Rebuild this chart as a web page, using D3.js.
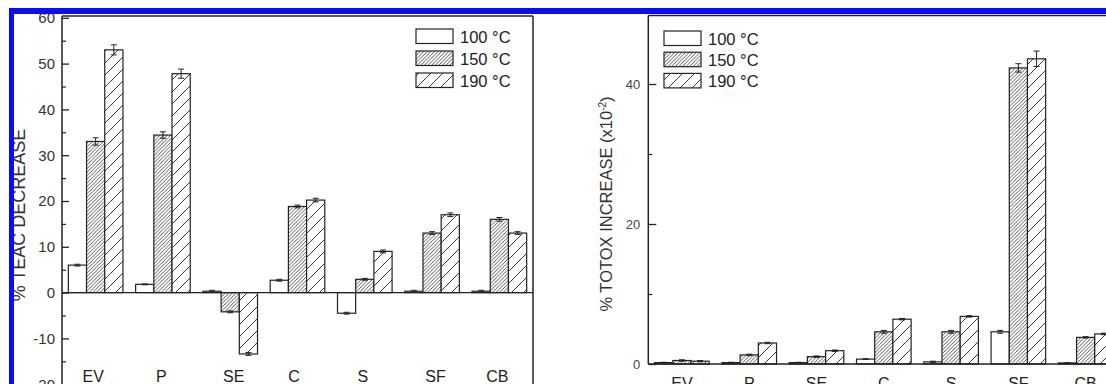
<!DOCTYPE html>
<html><head><meta charset="utf-8">
<script src="https://cdn.jsdelivr.net/npm/d3@7"></script>
<style>body{margin:0;background:#fff}svg{display:block}text{font-family:"Liberation Sans",Arial,sans-serif}</style>
</head><body>
<script>
const categories = ["EV","P","SE","C","S","SF","CB"];
const series = ["100 °C","150 °C","190 °C"];
// Left panel: % TEAC decrease
const teac100 = [6.0, 1.8, 0.3, 2.7, -4.5, 0.3, 0.3];
const teac150 = [33.0, 34.4, -4.2, 18.8, 2.9, 13.0, 16.0];
const teac190 = [53.0, 47.8, -13.4, 20.2, 9.0, 17.0, 13.0];
const teacErr100 = [0.2, 0.1, 0.2, 0.2, 0.2, 0.2, 0.2];
const teacErr150 = [0.8, 0.7, 0.2, 0.3, 0.2, 0.3, 0.4];
const teacErr190 = [1.1, 1.0, 0.3, 0.4, 0.3, 0.4, 0.3];
const teacTicks = [-20,-10,0,10,20,30,40,50,60];
const teacMinor = [-15,-5,5,15,25,35,45,55];
// Right panel: % TOTOX increase (x10^-2)
const totox100 = [0.2, 0.2, 0.2, 0.7, 0.3, 4.6, 0.15];
const totox150 = [0.5, 1.3, 1.05, 4.6, 4.6, 42.3, 3.8];
const totox190 = [0.4, 3.0, 1.9, 6.4, 6.8, 43.6, 4.3];
const totoxErr100 = [0.05, 0.05, 0.05, 0.05, 0.1, 0.2, 0.05];
const totoxErr150 = [0.1, 0.1, 0.1, 0.2, 0.2, 0.6, 0.1];
const totoxErr190 = [0.1, 0.1, 0.1, 0.1, 0.1, 1.1, 0.1];
const totoxTicks = [0, 20, 40];
const totoxMinor = [10, 30];

const W = 1106, H = 384;
const ink = "#222";
const svg = d3.select("body").append("svg").attr("width", W).attr("height", H);
svg.append("rect").attr("width", W).attr("height", H).attr("fill", "#fff");

const defs = svg.append("defs");
function hatch(id, w, sw) {
  const p = defs.append("pattern").attr("id", id).attr("patternUnits", "userSpaceOnUse")
    .attr("width", w).attr("height", w);
  p.append("rect").attr("width", w).attr("height", w).attr("fill", "#fff");
  p.append("path").attr("d", `M0,${w} L${w},0 M-2,2 L2,-2 M${w-2},${w+2} L${w+2},${w-2}`)
    .attr("stroke", ink).attr("stroke-width", sw);
}
hatch("h150", 3.6, 0.75);
hatch("h190", 12, 0.9);
const fills = ["#fff", "url(#h150)", "url(#h190)"];
const fmt = d => String(d);

function panel(o) {
  const g = svg.append("g");
  const x = d3.scaleBand().domain(categories).range(o.xr);
  const inner = d3.scaleBand().domain(series).range([0, 54.6]);
  const off = (x.bandwidth() - 54.6) / 2;
  const y = d3.scaleLinear().domain(o.yd).range(o.yr);

  categories.forEach((c, i) => {
    series.forEach((s, j) => {
      const v = o.vals[j][i], e = o.errs[j][i];
      const bx = x(c) + off + inner(s);
      g.append("rect").attr("x", bx).attr("y", y(Math.max(v, 0)))
        .attr("width", inner.bandwidth()).attr("height", Math.max(Math.abs(y(v) - y(0)), 0.8))
        .attr("fill", fills[j]).attr("stroke", ink).attr("stroke-width", 1.2);
      const cx = bx + inner.bandwidth() / 2;
      g.append("path").attr("d",
        `M${cx},${y(v - e)}V${y(v + e)}M${cx - 3},${y(v + e)}H${cx + 3}M${cx - 3},${y(v - e)}H${cx + 3}`)
        .attr("stroke", ink).attr("stroke-width", 1).attr("fill", "none");
    });
  });

  g.append("line").attr("x1", o.xr[0]).attr("x2", Math.min(o.xr[1], W)).attr("y1", y(0)).attr("y2", y(0))
    .attr("stroke", ink).attr("stroke-width", 1.4);
  g.append("line").attr("x1", o.xr[0]).attr("x2", Math.min(o.xr[1], W)).attr("y1", o.top).attr("y2", o.top)
    .attr("stroke", ink).attr("stroke-width", 1.5);
  if (o.xr[1] < W) {
    g.append("line").attr("x1", o.xr[1]).attr("x2", o.xr[1]).attr("y1", o.top).attr("y2", H)
      .attr("stroke", ink).attr("stroke-width", 1.5);
  }

  const ax = g.append("g").attr("transform", `translate(${o.xr[0]},0)`)
    .call(d3.axisLeft(y).tickValues(o.ticks).tickSize(-o.tick).tickPadding(o.pad).tickFormat(fmt));
  ax.select(".domain").remove();
  ax.selectAll(".tick line").attr("stroke", ink).attr("stroke-width", 1.3);
  ax.selectAll(".tick text").attr("font-size", o.tfs).attr("fill", o.tcol)
    .attr("font-family", '"Liberation Sans",Arial,sans-serif');
  const mx = g.append("g").attr("transform", `translate(${o.xr[0]},0)`)
    .call(d3.axisLeft(y).tickValues(o.minor).tickSize(-4).tickFormat(""));
  mx.select(".domain").remove();
  mx.selectAll(".tick line").attr("stroke", ink).attr("stroke-width", 1.2);
  g.append("line").attr("x1", o.xr[0]).attr("x2", o.xr[0]).attr("y1", o.top).attr("y2", o.axBottom)
    .attr("stroke", ink).attr("stroke-width", 1.5);

  g.selectAll(".cat").data(categories).enter().append("text")
    .attr("x", (d, i) => x(d) + x.bandwidth() / 2 + o.catShift[i]).attr("y", o.catY)
    .attr("text-anchor", "middle").attr("font-size", 16).attr("fill", "#222").text(d => d);

  series.forEach((s, j) => {
    const ly = o.legY + j * o.legStep;
    g.append("rect").attr("x", o.legX).attr("y", ly).attr("width", 37).attr("height", 14.5)
      .attr("fill", fills[j]).attr("stroke", ink).attr("stroke-width", 1.2);
    g.append("text").attr("x", o.legX + 44).attr("y", ly + 13.5).attr("font-size", 16.5)
      .attr("fill", "#222").text(s);
  });

  const t = g.append("text").attr("transform", `translate(${o.titleX},${o.titleY}) rotate(-90)`)
    .attr("text-anchor", "middle").attr("font-size", o.titleFs).attr("fill", "#333");
  o.title(t);
}

panel({
  xr: [62, 533], yd: [-20, 60], yr: [384.2, 17.8], top: 16, axBottom: H,
  vals: [teac100, teac150, teac190], errs: [teacErr100, teacErr150, teacErr190],
  ticks: teacTicks, minor: teacMinor, tick: 7, pad: 7, tfs: 15, tcol: "#333",
  catY: 381.5, catShift: [-2.5, -1.5, 3.5, -3.5, -2, 3.5, -2],
  legX: 416, legY: 29, legStep: 22,
  titleX: 24.5, titleY: 215, titleFs: 18,
  title: t => t.text("% TEAC DECREASE")
});

panel({
  xr: [648.3, 1119.3], yd: [0, 50], yr: [364, 14], top: 15.5, axBottom: 364,
  vals: [totox100, totox150, totox190], errs: [totoxErr100, totoxErr150, totoxErr190],
  ticks: totoxTicks, minor: totoxMinor, tick: 8, pad: 8, tfs: 13, tcol: "#444",
  catY: 388.5, catShift: [0, 0, 0, 0, 0, 0, 0],
  legX: 664, legY: 31, legStep: 21.2,
  titleX: 611.5, titleY: 204, titleFs: 16.5,
  title: t => {
    t.append("tspan").text("% TOTOX INCREASE (x10");
    t.append("tspan").attr("dy", -6).attr("font-size", 10).text("-2");
    t.append("tspan").attr("dy", 6).text(")");
  }
});

svg.append("rect").attr("x", 9).attr("y", 8).attr("width", W - 9).attr("height", 6).attr("fill", "#0d0df2");
svg.append("rect").attr("x", 9).attr("y", 8).attr("width", 5).attr("height", H - 8).attr("fill", "#0d0df2");
</script>
</body></html>
